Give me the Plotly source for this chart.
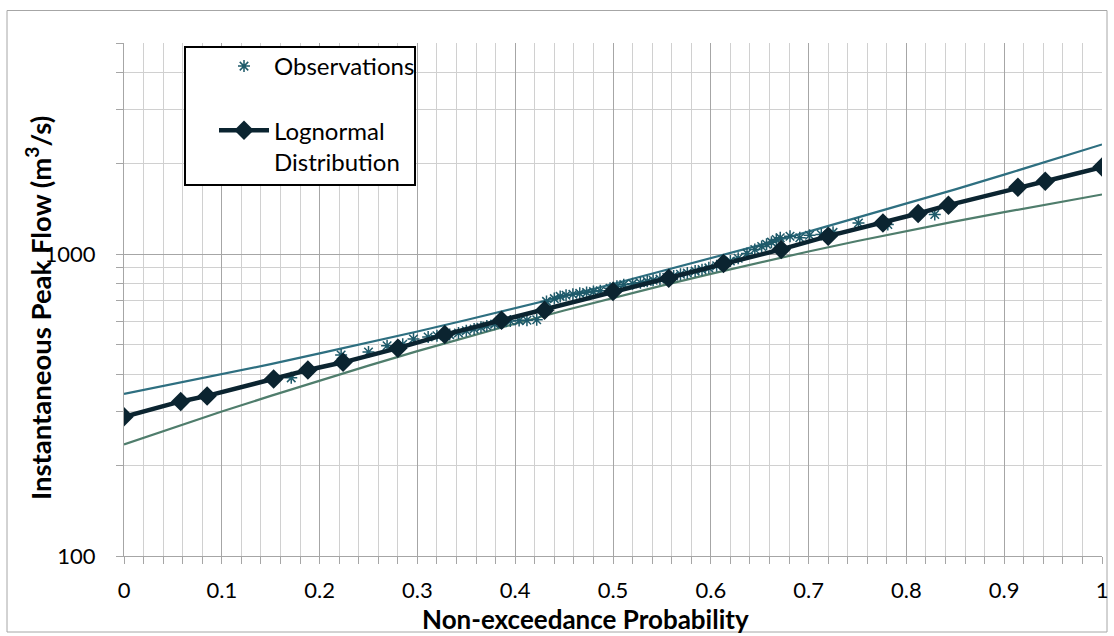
import plotly.graph_objects as go

# ---- data ----
obs_p = [0.171, 0.222, 0.250, 0.269, 0.285, 0.296, 0.311, 0.320, 0.333, 0.342,
         0.350, 0.358, 0.365, 0.371, 0.379, 0.387, 0.395, 0.404, 0.412, 0.422,
         0.432, 0.440, 0.446, 0.452, 0.459, 0.466, 0.473, 0.480, 0.487, 0.497,
         0.504, 0.511, 0.520, 0.528, 0.535, 0.541, 0.548, 0.555, 0.562, 0.569,
         0.576, 0.584, 0.591, 0.598, 0.606, 0.613, 0.620, 0.628, 0.637, 0.645,
         0.652, 0.657, 0.662, 0.667, 0.671, 0.681, 0.691, 0.701, 0.713, 0.725,
         0.751, 0.781, 0.829]
obs_q = [389, 463, 474, 497, 503, 523, 531, 536, 541, 548,
         557, 565, 572, 578, 586, 593, 600, 602, 604, 606,
         697, 712, 724, 730, 736, 741, 746, 751, 756, 770,
         783, 792, 798, 804, 812, 819, 827, 836, 846, 857,
         866, 878, 888, 900, 914, 930, 948, 968, 1005, 1035,
         1060, 1077, 1095, 1118, 1132, 1146, 1132, 1155, 1161, 1180,
         1268, 1253, 1352]

ln_p = [0, 0.058, 0.085, 0.153, 0.188, 0.224, 0.280, 0.328, 0.386, 0.430, 0.500,
        0.557, 0.613, 0.672, 0.720, 0.776, 0.812, 0.843, 0.914, 0.942, 1.0]
ln_q = [289, 325, 339, 386, 413, 438, 488, 541, 604, 652, 751,
        832, 931, 1036, 1146, 1268, 1362, 1452, 1664, 1742, 1941]

bound_p = [0, 0.05, 0.1, 0.15, 0.2, 0.25, 0.3, 0.35, 0.4, 0.45, 0.5,
           0.55, 0.6, 0.65, 0.7, 0.75, 0.8, 0.85, 0.9, 0.95, 1.0]
upper_q = [344, 371, 400, 432, 469, 509, 554, 605, 661, 725, 796,
           877, 967, 1070, 1186, 1318, 1467, 1637, 1832, 2053, 2307]
lower_q = [234, 266, 301, 339, 381, 427, 477, 530, 588, 650, 716,
           786, 860, 938, 1020, 1105, 1193, 1283, 1376, 1471, 1575]

x_ticks = [0, 0.1, 0.2, 0.3, 0.4, 0.5, 0.6, 0.7, 0.8, 0.9, 1]
x_tick_text = ["0", "0.1", "0.2", "0.3", "0.4", "0.5", "0.6", "0.7", "0.8", "0.9", "1"]
y_ticks = [100, 1000]
y_tick_text = ["100", "1000"]
x_title = "Non-exceedance Probability"
y_title = "Instantaneous Peak Flow (m<sup>3</sup>/s)"

FONT = "Lato"
W, H = 1114, 636
L, R, T, B = 124, 12, 43, 80
pw, ph = W - L - R, H - T - B


def px_to_paper_x(px):
    return (px - L) / pw


def px_to_paper_y(py):
    return (H - B - py) / ph


fig = go.Figure()

fig.add_trace(go.Scatter(x=bound_p, y=upper_q, mode="lines",
                         line=dict(color="#2E6F80", width=2.2),
                         showlegend=False, hoverinfo="skip"))
fig.add_trace(go.Scatter(x=bound_p, y=lower_q, mode="lines",
                         line=dict(color="#4F7D6C", width=2.2),
                         showlegend=False, hoverinfo="skip"))
fig.add_trace(go.Scatter(x=obs_p, y=obs_q, mode="markers", name="Observations",
                         legendgroup="a",
                         marker=dict(symbol="asterisk-open", size=10, color="#1E5A6A",
                                     line=dict(color="#1E5A6A", width=1.5))))
fig.add_trace(go.Scatter(x=ln_p, y=ln_q, mode="lines+markers",
                         name="Lognormal<br>Distribution", legendgroup="b",
                         line=dict(color="#0B2430", width=4.5),
                         marker=dict(symbol="diamond", size=15, color="#0B2430")))

grid_major = "#A6A6A6"
grid_minor = "#D0D0D0"

fig.update_xaxes(range=[0, 1], tickvals=x_ticks, ticktext=x_tick_text,
                 showgrid=True, gridcolor=grid_major, gridwidth=1,
                 showline=True, linecolor=grid_major, linewidth=1,
                 ticks="outside", ticklen=7, tickcolor=grid_major,
                 tickfont=dict(family=FONT, size=22, color="#000"),
                 ticklabelstandoff=8,
                 minor=dict(dtick=0.02, showgrid=True, gridcolor=grid_minor,
                            ticks="outside", ticklen=7, tickcolor=grid_major),
                 zeroline=False)
fig.update_yaxes(type="log", range=[2, 3.69897], tickvals=y_ticks, ticktext=y_tick_text,
                 showgrid=True, gridcolor=grid_major, gridwidth=1,
                 showline=True, linecolor=grid_major, linewidth=1,
                 ticks="outside", ticklen=7, tickcolor=grid_major,
                 tickfont=dict(family=FONT, size=22, color="#000"),
                 ticklabelstandoff=16,
                 minor=dict(dtick="D1", showgrid=True, gridcolor=grid_minor,
                            ticks="outside", ticklen=7, tickcolor=grid_major),
                 zeroline=False)

# axis titles placed as in the reference (Excel puts them slightly off-centre)
fig.add_annotation(text=x_title, xref="paper", yref="paper",
                   x=px_to_paper_x(585), y=px_to_paper_y(619),
                   xanchor="center", yanchor="middle", showarrow=False,
                   font=dict(family=FONT, size=26, color="#000", weight="bold"))
fig.add_annotation(text=y_title, xref="paper", yref="paper", textangle=-90,
                   x=px_to_paper_x(38), y=px_to_paper_y(308),
                   xanchor="center", yanchor="middle", showarrow=False,
                   font=dict(family=FONT, size=27.5, color="#000", weight="bold"))

# chart-area border and legend box
fig.add_shape(type="rect", xref="paper", yref="paper",
              x0=px_to_paper_x(7), x1=px_to_paper_x(1107),
              y0=px_to_paper_y(632), y1=px_to_paper_y(10.5),
              line=dict(color="#A6A6A6", width=1), layer="below")
fig.add_shape(type="rect", xref="paper", yref="paper",
              x0=px_to_paper_x(185), x1=px_to_paper_x(415),
              y0=px_to_paper_y(185), y1=px_to_paper_y(47),
              line=dict(color="#000000", width=2), fillcolor="white", layer="above")

fig.update_layout(
    width=W, height=H,
    margin=dict(l=L, r=R, t=T, b=B, autoexpand=False),
    paper_bgcolor="white", plot_bgcolor="white",
    font=dict(family=FONT, color="#000"),
    legend=dict(x=px_to_paper_x(214), y=px_to_paper_y(44), xanchor="left", yanchor="top",
                bgcolor="rgba(0,0,0,0)", borderwidth=0,
                font=dict(family=FONT, size=24, color="#000"),
                tracegroupgap=30, itemwidth=50, valign="top"),
)

fig.write_html("out.html", config={"displayModeBar": False},
               post_script="document.body.style.margin='0px';")
